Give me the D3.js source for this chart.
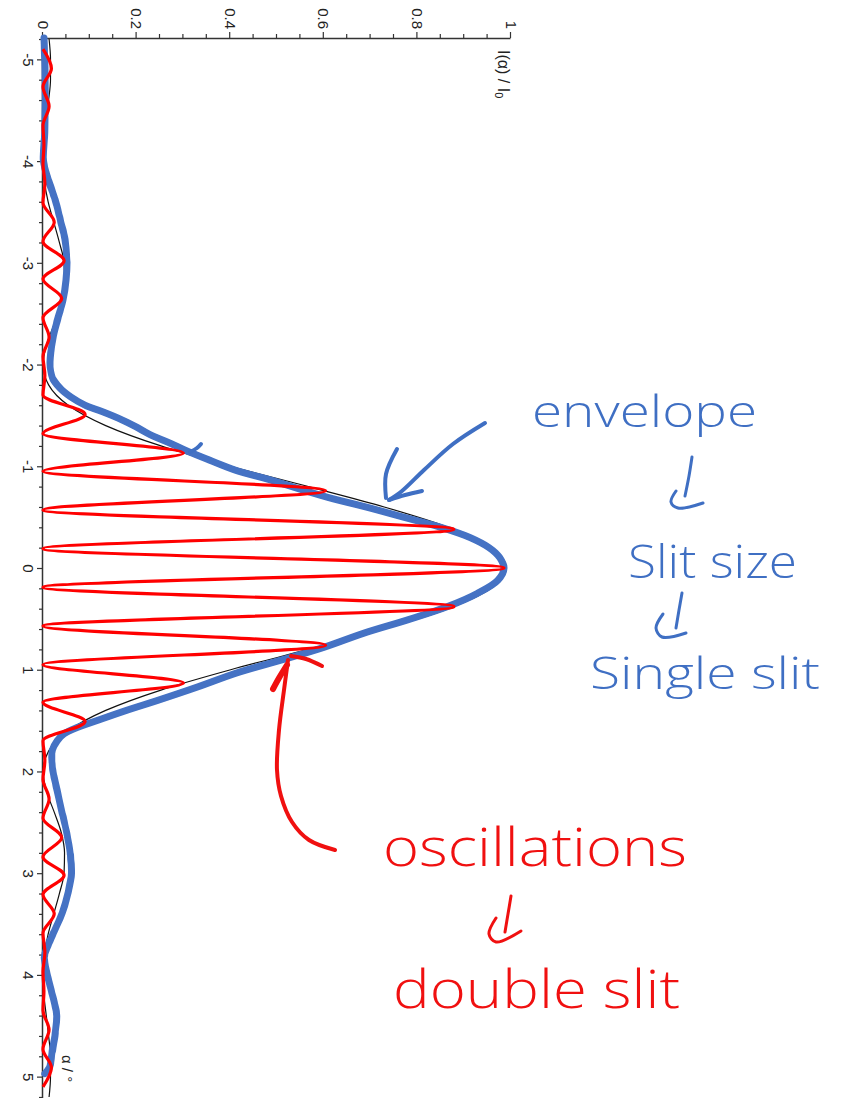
<!DOCTYPE html>
<html>
<head>
<meta charset="utf-8">
<script src="https://cdn.jsdelivr.net/npm/d3@7"></script>
<style>
  body { margin: 0; background: #fff; }
  svg { display: block; }
</style>
</head>
<body>
<svg id="chart" width="848" height="1098"></svg>
<script>
// ---- data: diffraction angle α (degrees) and normalised intensity I(α)/I0 ----

// single-slit envelope (thin black curve)
const envAlpha = [-5.2, -5.0, -4.8, -4.6, -4.4, -4.2, -4.0, -3.8, -3.6, -3.4, -3.2, -3.0, -2.8, -2.6, -2.4, -2.2, -2.0,
  -1.8, -1.6, -1.4, -1.2, -1.0, -0.8, -0.6, -0.4, -0.2, 0, 0.2, 0.4, 0.6, 0.8, 1.0, 1.2, 1.4, 1.6, 1.8,
  2.0, 2.2, 2.4, 2.6, 2.8, 3.0, 3.2, 3.4, 3.6, 3.8, 4.0, 4.2, 4.4, 4.6, 4.8, 5.0, 5.2];
const envI = [0.013, 0.016, 0.016, 0.012, 0.007, 0.002, 0.000, 0.003, 0.011, 0.023, 0.035, 0.045, 0.046, 0.039, 0.024, 0.008, 0.000,
  0.012, 0.054, 0.134, 0.252, 0.401, 0.567, 0.729, 0.866, 0.958, 0.990, 0.958, 0.866, 0.729, 0.567, 0.401, 0.252, 0.134, 0.054, 0.012,
  0.000, 0.008, 0.024, 0.039, 0.046, 0.045, 0.035, 0.023, 0.011, 0.003, 0.000, 0.002, 0.007, 0.012, 0.016, 0.016, 0.013];

// double-slit pattern (red curve): fringe maxima and minima
const fringeAlpha = [-5.10, -4.91, -4.73, -4.54, -4.35, -4.16, -3.97, -3.78, -3.59, -3.40, -3.21, -3.02, -2.84, -2.65,
  -2.46, -2.27, -2.08, -1.89, -1.70, -1.51, -1.32, -1.13, -0.95, -0.76, -0.57, -0.38, -0.19, 0,
  0.19, 0.38, 0.57, 0.76, 0.95, 1.13, 1.32, 1.51, 1.70, 1.89, 2.08, 2.27, 2.46, 2.65,
  2.84, 3.02, 3.21, 3.40, 3.59, 3.78, 3.97, 4.16, 4.35, 4.54, 4.73, 4.91, 5.10];
const fringeI = [0, 0.018, 0, 0.013, 0, 0.002, 0, 0.004, 0, 0.024, 0, 0.045, 0, 0.040,
  0, 0.013, 0, 0.004, 0, 0.090, 0, 0.300, 0, 0.604, 0, 0.878, 0, 0.985,
  0, 0.878, 0, 0.604, 0, 0.300, 0, 0.090, 0, 0.004, 0, 0.013, 0, 0.040,
  0, 0.045, 0, 0.024, 0, 0.004, 0, 0.002, 0, 0.013, 0, 0.018, 0];

// hand-traced envelope (thick blue stroke)
const traceAlpha = [-5.21, -5.00, -4.60, -4.28, -4.00, -3.82, -3.62, -3.42, -3.23, -3.03, -2.83, -2.64, -2.44, -2.25,
  -2.02, -1.87, -1.77, -1.68, -1.60, -1.54, -1.47, -1.39, -1.31, -1.23, -1.14, -1.06, -0.96, -0.87, -0.77,
  -0.69, -0.60, -0.50, -0.40, -0.30, -0.20, -0.10, 0.00, 0.12, 0.25, 0.38, 0.51, 0.64, 0.78, 0.90, 1.03,
  1.17, 1.30, 1.40, 1.50, 1.57, 1.63, 1.70, 1.79, 1.96, 2.18, 2.41, 2.61, 2.80, 3.00, 3.20, 3.39, 3.59,
  3.73, 3.82, 3.98, 4.18, 4.38, 4.57, 4.77, 4.91, 4.97];
const traceI = [0.002, 0.004, 0.005, 0.004, 0.001, 0.011, 0.026, 0.037, 0.047, 0.051, 0.049, 0.043, 0.031, 0.021,
  0.015, 0.020, 0.036, 0.060, 0.090, 0.125, 0.162, 0.198, 0.229, 0.270, 0.313, 0.356, 0.412, 0.483, 0.553,
  0.612, 0.690, 0.770, 0.850, 0.912, 0.953, 0.976, 0.985, 0.972, 0.928, 0.864, 0.779, 0.686, 0.600, 0.513, 0.415,
  0.330, 0.246, 0.178, 0.115, 0.072, 0.045, 0.030, 0.020, 0.020, 0.030, 0.041, 0.051, 0.058, 0.061, 0.053, 0.041, 0.022,
  0.009, 0.003, 0.008, 0.019, 0.029, 0.026, 0.019, 0.014, 0.004];

// axis ticks and labels
const alphaMajor = [-5, -4, -3, -2, -1, 0, 1, 2, 3, 4, 5];
const alphaLabels = ["-5", "-4", "-3", "-2", "-1", "0", "1", "2", "3", "4", "5"];
const intensityMajor = [0, 0.2, 0.4, 0.6, 0.8, 1];
const intensityLabels = ["0", "0.2", "0.4", "0.6", "0.8", "1"];

// ---- layout ----
const svg = d3.select("#chart");
const alphaLen = 1060;   // plot length along α
const intLen = 468;      // plot length along I

const x = d3.scaleLinear().domain([-5.21, 5.21]).range([0, alphaLen]);
const y = d3.scaleLinear().domain([0, 1]).range([intLen, 0]);

// soft edge for the marker stroke
const defs = svg.append("defs");
defs.append("filter").attr("id", "soft")
  .attr("x", "-5%").attr("y", "-5%").attr("width", "110%").attr("height", "110%")
  .append("feGaussianBlur").attr("stdDeviation", 0.6);

// the plot is laid out upright and turned a quarter turn clockwise,
// so α runs down the page and I runs to the right
const plot = svg.append("g").attr("transform", "translate(511,38) rotate(90)");

const tickFont = "'Liberation Sans', Arial, sans-serif";

// minor ticks
const alphaMinor = d3.range(-52, 53, 2).map(v => v / 10).filter(v => Math.abs(v - Math.round(v)) > 1e-6);
const intMinor = d3.range(0, 21).map(v => v / 20).filter(v => Math.abs(v * 5 - Math.round(v * 5)) > 1e-6);

plot.append("g")
  .attr("transform", `translate(0,${intLen})`)
  .call(d3.axisBottom(x).tickValues(alphaMinor).tickSize(4).tickSizeOuter(0).tickFormat(""))
  .call(g => g.select(".domain").remove());
plot.append("g")
  .call(d3.axisLeft(y).tickValues(intMinor).tickSize(4).tickSizeOuter(0).tickFormat(""))
  .call(g => g.select(".domain").remove());

plot.append("g")
  .attr("transform", `translate(0,${intLen})`)
  .call(d3.axisBottom(x).tickValues(alphaMajor).tickSize(6).tickSizeOuter(0)
    .tickFormat((d, i) => alphaLabels[i]));
plot.append("g")
  .call(d3.axisLeft(y).tickValues(intensityMajor).tickSize(6).tickSizeOuter(0)
    .tickFormat((d, i) => intensityLabels[i]));

plot.selectAll(".tick line").attr("stroke", "#333").attr("stroke-width", 1.2);
plot.selectAll(".domain").attr("stroke", "#333").attr("stroke-width", 1.5);
plot.selectAll(".tick text").attr("font-family", tickFont).attr("font-size", 15).attr("fill", "#222");

// axis titles
const yTitle = plot.append("text")
  .attr("x", 12).attr("y", 13)
  .attr("font-family", tickFont).attr("font-size", 16).attr("fill", "#222");
yTitle.append("tspan").text("I(α) / I");
yTitle.append("tspan").attr("font-size", 11).attr("dy", 3).text("0");

plot.append("text")
  .attr("x", 1017).attr("y", 449)
  .attr("font-family", tickFont).attr("font-size", 15).attr("fill", "#222")
  .text("α / °");

// ---- curves ----
const envLine = d3.line().x(d => x(d[0])).y(d => y(d[1])).curve(d3.curveMonotoneX);

plot.append("path")
  .datum(envAlpha.map((a, i) => [a, envI[i]]))
  .attr("d", envLine)
  .attr("fill", "none").attr("stroke", "#111").attr("stroke-width", 1.2);

plot.append("path")
  .datum(traceAlpha.map((a, i) => [a, traceI[i]]))
  .attr("d", d3.line().x(d => x(d[0])).y(d => y(d[1])).curve(d3.curveCatmullRom.alpha(0.5)))
  .attr("fill", "none").attr("stroke", "#4472c4").attr("stroke-width", 7)
  .attr("stroke-linecap", "round").attr("stroke-linejoin", "round")
  .attr("filter", "url(#soft)");

plot.append("path")
  .datum(fringeAlpha.map((a, i) => [a, fringeI[i]]))
  .attr("d", envLine)
  .attr("fill", "none").attr("stroke", "#ff0000").attr("stroke-width", 3.2)
  .attr("stroke-linejoin", "round");

// ---- handwritten notes ----
const ink = svg.append("g").attr("fill", "none").attr("stroke-linecap", "round").attr("stroke-linejoin", "round");
const pen = d3.line().curve(d3.curveCatmullRom.alpha(0.5));
const blueInk = "#3f6fc3", redInk = "#f01010";

const strokes = [
  // arrow pointing at the envelope
  { c: blueInk, w: 4, p: [[485, 423], [453, 444], [424, 470], [402, 491], [389, 500]] },
  { c: blueInk, w: 4, p: [[397, 449], [386, 474], [386, 498]] },
  { c: blueInk, w: 4, p: [[389, 500], [405, 495], [422, 491]] },
  // small flick on the traced line
  { c: blueInk, w: 4, p: [[190, 452], [197, 448], [201, 444]] },
  // "leads to" marks
  { c: blueInk, w: 3, p: [[692, 457], [689, 476], [685, 496]] },
  { c: blueInk, w: 3, p: [[676, 491], [671, 502], [678, 508], [703, 503]] },
  { c: blueInk, w: 3, p: [[682, 593], [679, 610], [676, 628]] },
  { c: blueInk, w: 3, p: [[663, 614], [656, 628], [662, 637], [686, 633]] },
  { c: redInk, w: 3, p: [[511, 896], [508, 914], [505, 932]] },
  { c: redInk, w: 3, p: [[496, 918], [489, 934], [496, 942], [521, 931]] },
  // arrow pointing at the fringes
  { c: redInk, w: 4, p: [[335, 850], [309, 840], [292, 822], [281, 796], [277, 770], [279, 730], [284, 690], [288, 660]] },
  { c: redInk, w: 4, p: [[291, 656], [306, 659], [322, 666]] },
  { c: redInk, w: 6, p: [[287, 665], [279, 678], [273, 689]] }
];
strokes.forEach(s => {
  ink.append("path").attr("d", pen(s.p)).attr("stroke", s.c).attr("stroke-width", s.w);
});

const handFont = "'Open Sans', 'DejaVu Sans', sans-serif";
const notes = [
  { t: "envelope", x: 532, y: 427, len: 225, fs: 44, c: blueInk },
  { t: "Slit size", x: 628, y: 578, len: 169, fs: 46, c: blueInk },
  { t: "Single slit", x: 590, y: 689, len: 230, fs: 44, c: blueInk },
  { t: "oscillations", x: 383, y: 866, len: 304, fs: 54, c: redInk },
  { t: "double slit", x: 393, y: 1008, len: 287, fs: 54, c: redInk }
];
svg.append("g").selectAll("text").data(notes).join("text")
  .attr("x", d => d.x).attr("y", d => d.y)
  .attr("textLength", d => d.len).attr("lengthAdjust", "spacingAndGlyphs")
  .attr("font-family", handFont).attr("font-weight", 300).attr("font-size", d => d.fs)
  .attr("fill", d => d.c)
  .text(d => d.t);
</script>
</body>
</html>
